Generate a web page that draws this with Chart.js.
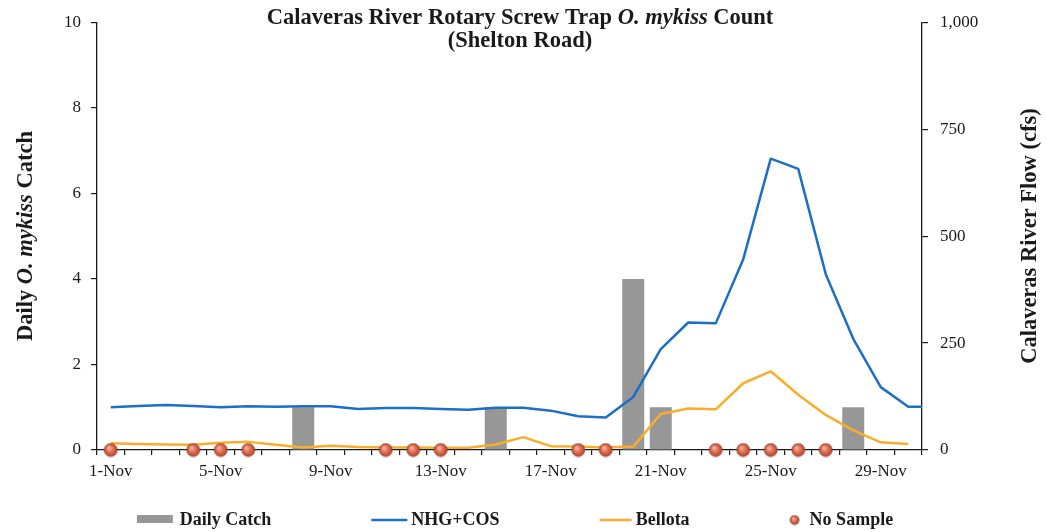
<!DOCTYPE html>
<html>
<head>
<meta charset="utf-8">
<title>Calaveras River Rotary Screw Trap</title>
<script src="https://cdn.jsdelivr.net/npm/chart.js@4.4.1/dist/chart.umd.min.js"></script>
<style>
  html, body { margin: 0; padding: 0; background: #fff; overflow: hidden; }
  canvas { display: block; }
</style>
</head>
<body>
<canvas id="trapChart" width="1047" height="532"></canvas>
<script>
// ── Data ──────────────────────────────────────────────────────────────────
// one extra day on the end so the flow line runs out to the right axis
const dayLabels = [
  '1-Nov', '2-Nov', '3-Nov', '4-Nov', '5-Nov', '6-Nov', '7-Nov', '8-Nov', '9-Nov', '10-Nov',
  '11-Nov', '12-Nov', '13-Nov', '14-Nov', '15-Nov', '16-Nov', '17-Nov', '18-Nov', '19-Nov', '20-Nov',
  '21-Nov', '22-Nov', '23-Nov', '24-Nov', '25-Nov', '26-Nov', '27-Nov', '28-Nov', '29-Nov', '30-Nov',
  '1-Dec'
];
const lastDay = '30-Nov';
const shownDates = ['1-Nov', '5-Nov', '9-Nov', '13-Nov', '17-Nov', '21-Nov', '25-Nov', '29-Nov'];

const dailyCatch = [0, 0, 0, 0, 0, 0, 0, 1, 0, 0, 0, 0, 0, 0, 1, 0, 0, 0, 0, 4, 1, 0, 0, 0, 0, 0, 0, 1, 0, 0];

// flow in cfs
const nhgCos = [100, 103, 105, 103, 100, 102, 101, 102, 102, 96, 98, 98, 96, 94, 99, 99, 92, 79, 76, 124,
                236, 298, 296, 446, 681, 657, 411, 260, 147, 101, 101];
const bellota = [16, 14, 13, 12, 17, 19, 12, 6, 10, 7, 6, 6, 5, 5, 13, 30, 9, 8, 6, 8,
                 84, 97, 95, 156, 184, 129, 82, 46, 18, 14];

// trap not fished on these days
const noSample = [0, null, null, 0, 0, 0, null, null, null, null, 0, 0, 0, null, null, null, null, 0, 0, null,
                  null, null, 0, 0, 0, 0, 0, null, null, null];

const catchTicks = [0, 2, 4, 6, 8, 10];
const flowTicks  = [0, 250, 500, 750, 1000];

// ── Styles ────────────────────────────────────────────────────────────────
const SERIF = "'Liberation Serif', 'Times New Roman', serif";
const INK   = '#1a1a1a';
const GRAY  = '#979797';
const BLUE  = '#1b6fc6';
const GOLD  = '#f9ad2a';

// shaded red ball for the "No Sample" markers
function makeBall(r) {
  const size = Math.ceil(r * 2 + 2);
  const c = document.createElement('canvas');
  c.width = c.height = size;
  const g = c.getContext('2d');
  const m = size / 2;
  const grad = g.createRadialGradient(m - r * 0.3, m - r * 0.35, r * 0.1, m, m, r);
  grad.addColorStop(0, '#f8b6a0');
  grad.addColorStop(0.45, '#e2745a');
  grad.addColorStop(1, '#b24530');
  g.beginPath();
  g.arc(m, m, r, 0, Math.PI * 2);
  g.fillStyle = grad;
  g.fill();
  g.lineWidth = 0.7;
  g.strokeStyle = '#8e3423';
  g.stroke();
  return c;
}
const ball       = makeBall(6.5);
const legendBall = makeBall(4.5);

// text with italic runs, centred on (cx, cy)
function richText(ctx, parts, size, cx, cy) {
  const fontFor = p => `${p.i ? 'italic ' : ''}bold ${size}px ${SERIF}`;
  let total = 0;
  parts.forEach(p => { ctx.font = fontFor(p); p.w = ctx.measureText(p.t).width; total += p.w; });
  let x = cx - total / 2;
  ctx.textAlign = 'left';
  ctx.textBaseline = 'middle';
  parts.forEach(p => { ctx.font = fontFor(p); ctx.fillText(p.t, x, cy); x += p.w; });
}

// ── Titles + legend ───────────────────────────────────────────────────────
const decor = {
  id: 'decor',
  afterDraw(chart) {
    const { ctx, chartArea } = chart;
    const midY = (chartArea.top + chartArea.bottom) / 2;
    ctx.save();
    ctx.fillStyle = INK;

    richText(ctx, [
      { t: 'Calaveras River Rotary Screw Trap ' },
      { t: 'O. mykiss', i: true },
      { t: ' Count' }
    ], 22.5, 520, 18);
    richText(ctx, [{ t: '(Shelton Road)' }], 22.5, 520, 41);

    ctx.save();
    ctx.translate(26, midY);
    ctx.rotate(-Math.PI / 2);
    richText(ctx, [{ t: 'Daily ' }, { t: 'O. mykiss', i: true }, { t: ' Catch' }], 22.5, 0, 0);
    ctx.restore();

    ctx.save();
    ctx.translate(1030, midY);
    ctx.rotate(-Math.PI / 2);
    richText(ctx, [{ t: 'Calaveras River Flow (cfs)' }], 22.5, 0, 0);
    ctx.restore();

    // legend row
    const items = [
      { label: 'Daily Catch', kind: 'box',  w: 36, gap: 7 },
      { label: 'NHG+COS',     kind: 'line', color: BLUE, w: 36, gap: 4 },
      { label: 'Bellota',     kind: 'line', color: GOLD, w: 32, gap: 4 },
      { label: 'No Sample',   kind: 'ball', w: 10, gap: 10 }
    ];
    const spacing = 100;
    const ly = 520;
    ctx.font = `bold 18px ${SERIF}`;
    let total = spacing * (items.length - 1);
    items.forEach(it => { it.tw = ctx.measureText(it.label).width; total += it.w + it.gap + it.tw; });
    let x = 515 - total / 2;
    items.forEach(it => {
      if (it.kind === 'box') {
        ctx.fillStyle = GRAY;
        ctx.fillRect(x, ly - 5, it.w, 8);
      } else if (it.kind === 'line') {
        ctx.strokeStyle = it.color;
        ctx.lineWidth = 2.5;
        ctx.beginPath();
        ctx.moveTo(x, ly);
        ctx.lineTo(x + it.w, ly);
        ctx.stroke();
      } else {
        ctx.drawImage(legendBall, x + it.w / 2 - legendBall.width / 2, ly - legendBall.height / 2);
      }
      ctx.fillStyle = INK;
      ctx.textAlign = 'left';
      ctx.textBaseline = 'middle';
      ctx.fillText(it.label, x + it.w + it.gap, ly);
      x += it.w + it.gap + it.tw + spacing;
    });
    ctx.restore();
  }
};

// ── Chart ─────────────────────────────────────────────────────────────────
const tickFont = { family: SERIF, size: 17 };
const edgeClip = { left: 0, right: 0, top: 0, bottom: 0 };

new Chart(document.getElementById('trapChart'), {
  data: {
    labels: dayLabels,
    datasets: [
      {
        type: 'line', label: 'No Sample', data: noSample, yAxisID: 'y',
        showLine: false, pointStyle: ball, pointRadius: 7, clip: false, order: 0
      },
      {
        type: 'line', label: 'NHG+COS', data: nhgCos, yAxisID: 'y1',
        borderColor: BLUE, borderWidth: 2.5, pointRadius: 0, tension: 0,
        borderJoinStyle: 'round', clip: edgeClip, order: 1
      },
      {
        type: 'line', label: 'Bellota', data: bellota, yAxisID: 'y1',
        borderColor: GOLD, borderWidth: 2.5, pointRadius: 0, tension: 0,
        borderJoinStyle: 'round', order: 2
      },
      {
        type: 'bar', label: 'Daily Catch', data: dailyCatch, yAxisID: 'y',
        backgroundColor: GRAY, borderWidth: 0,
        barPercentage: 0.8, categoryPercentage: 1.0, order: 3
      }
    ]
  },
  options: {
    responsive: false,
    animation: false,
    layout: { padding: { top: 20 } },
    plugins: { legend: { display: false }, title: { display: false }, tooltip: { enabled: false } },
    scales: {
      x: {
        type: 'category',
        offset: true,
        // stop the axis at 30-Nov but keep the 1-Dec point for the line
        afterDataLimits: s => { s.max = dayLabels.indexOf(lastDay); },
        grid: { offset: true, drawOnChartArea: false, tickLength: 5, color: INK, lineWidth: 1.2 },
        border: { color: INK, width: 1.3 },
        ticks: {
          autoSkip: false, maxRotation: 0, padding: 6, color: INK, font: tickFont,
          callback(v) { const d = this.getLabelForValue(v); return shownDates.includes(d) ? d : ''; }
        },
        afterFit: s => { s.height = 82; }
      },
      y: {
        position: 'left', min: 0, max: 10,
        grid: { drawOnChartArea: false, tickLength: 6, color: INK, lineWidth: 1.2 },
        border: { color: INK, width: 1.3 },
        ticks: { padding: 10, color: INK, font: tickFont },
        afterBuildTicks: s => { s.ticks = catchTicks.map(v => ({ value: v })); },
        afterFit: s => { s.width = 97; }
      },
      y1: {
        position: 'right', min: 0, max: 1000,
        grid: { drawOnChartArea: false, tickLength: 6, color: INK, lineWidth: 1.2 },
        border: { color: INK, width: 1.3 },
        ticks: { padding: 12, color: INK, font: tickFont, callback: v => v.toLocaleString('en-US') },
        afterBuildTicks: s => { s.ticks = flowTicks.map(v => ({ value: v })); },
        afterFit: s => { s.width = 125; }
      }
    }
  },
  plugins: [decor]
});
</script>
</body>
</html>
